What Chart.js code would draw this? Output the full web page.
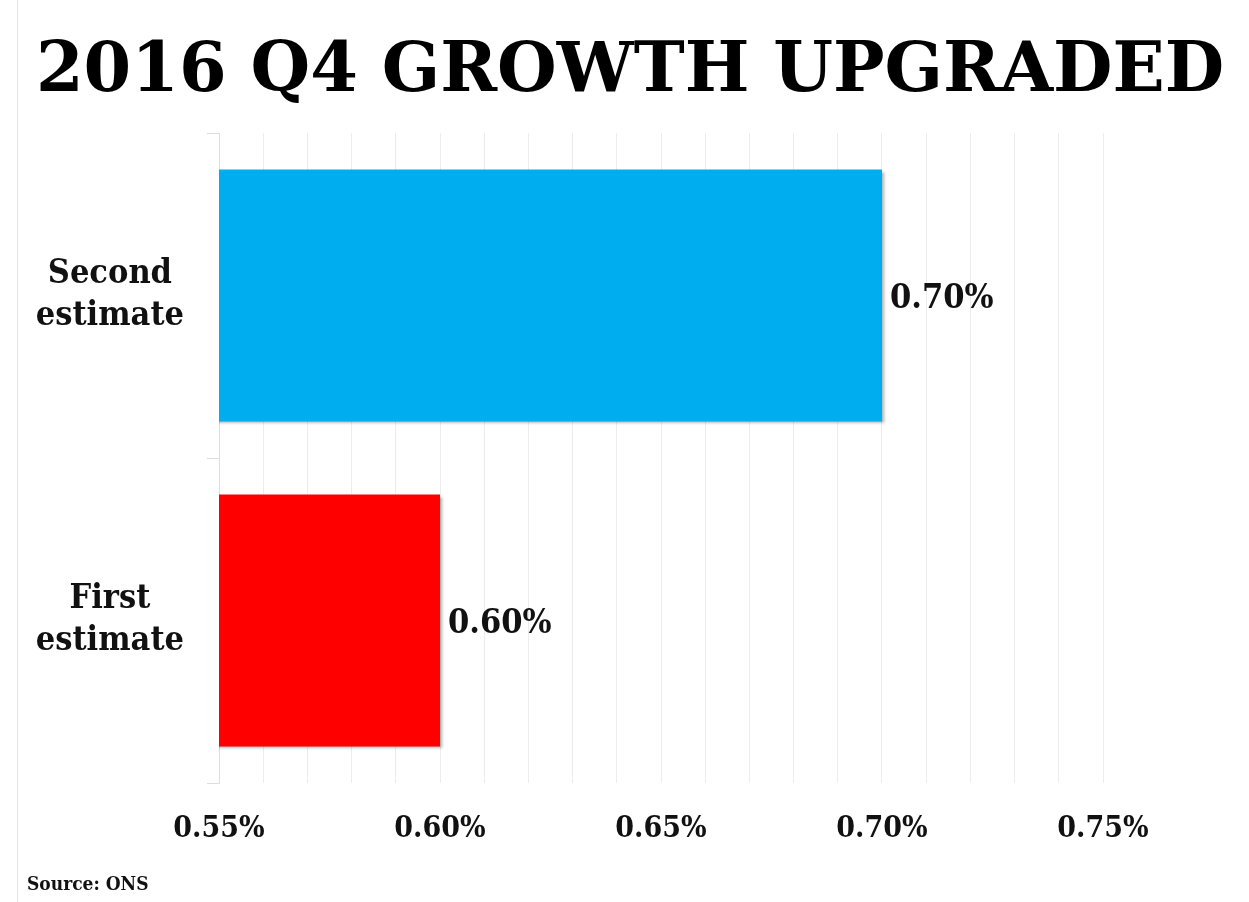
<!DOCTYPE html>
<html>

<head>
    <title>2016 Q4 Growth Upgraded</title>
    <script src="https://cdn.jsdelivr.net/npm/chart.js@4/dist/chart.umd.min.js"></script>
    <style>
        body { margin: 0; background: #fff; }
        #wrap { position: relative; width: 1249px; height: 902px; }
        #edge { position: absolute; left: 17px; top: 0; width: 1px; height: 902px; background: #e4e4e4; }
    </style>
</head>

<body>
    <div id="wrap">
        <div id="edge"></div>
        <canvas id="ctx" width="1249" height="902"></canvas>
    </div>

    <script>
        // chart data
        const categories = [['Second', 'estimate'], ['First', 'estimate']];
        const growth = [0.70, 0.60];
        const barColors = ['#00aeef', '#fe0000'];
        const tickLabels = ['0.55%', '0.60%', '0.65%', '0.70%', '0.75%'];

        const serif = "'DejaVu Serif Condensed', 'DejaVu Serif', serif";

        // soft drop shadow under the bars
        const barShadow = {
            id: 'barShadow',
            beforeDatasetDraw(chart) {
                const c = chart.ctx;
                c.save();
                c.shadowColor = 'rgba(0,0,0,0.35)';
                c.shadowOffsetX = 2;
                c.shadowOffsetY = 2;
                c.shadowBlur = 3;
            },
            afterDatasetDraw(chart) {
                chart.ctx.restore();
            }
        };

        // value labels at bar ends
        const valueLabels = {
            id: 'valueLabels',
            afterDatasetsDraw(chart) {
                const c = chart.ctx;
                const meta = chart.getDatasetMeta(0);
                c.save();
                c.font = 'bold 34px ' + serif;
                c.fillStyle = '#111';
                c.textBaseline = 'middle';
                c.textAlign = 'left';
                meta.data.forEach((bar, i) => {
                    c.fillText(growth[i].toFixed(2) + '%', bar.x + 8, bar.y + 4);
                });
                c.restore();
            }
        };

        const ctx = document.getElementById('ctx');

        new Chart(ctx, {
            type: 'bar',
            data: {
                labels: categories,
                datasets: [{
                    data: growth,
                    backgroundColor: barColors,
                    borderWidth: 0,
                    barPercentage: 0.775,
                    categoryPercentage: 1
                }]
            },
            options: {
                indexAxis: 'y',
                responsive: false,
                animation: false,
                layout: { padding: { left: 27, right: 16, top: 0, bottom: 0 } },
                plugins: {
                    legend: { display: false },
                    tooltip: { enabled: false },
                    title: {
                        display: true,
                        text: '2016 Q4 GROWTH UPGRADED',
                        color: '#000',
                        font: { family: "'DejaVu Serif', serif", size: 68.5, weight: 'bold', lineHeight: 1 },
                        padding: { top: 39, bottom: 25.5 }
                    },
                    subtitle: {
                        display: true,
                        position: 'bottom',
                        align: 'start',
                        text: 'Source: ONS',
                        color: '#111',
                        font: { family: serif, size: 19, weight: 'bold', lineHeight: 1 },
                        padding: { top: 0, bottom: 7 }
                    }
                },
                scales: {
                    x: {
                        min: 0.55,
                        max: 0.75,
                        border: { display: false },
                        grid: { color: '#ececec', drawTicks: false },
                        ticks: {
                            stepSize: 0.01,
                            autoSkip: false,
                            maxRotation: 0,
                            padding: 28.5,
                            color: '#111',
                            font: { family: serif, size: 30, weight: 'bold' },
                            callback(value) {
                                const k = Math.round((value - 0.55) * 100);
                                return k % 5 === 0 ? tickLabels[k / 5] : '';
                            }
                        }
                    },
                    y: {
                        border: { color: '#dddddd' },
                        grid: { drawOnChartArea: false, tickLength: 12, color: '#dddddd' },
                        ticks: {
                            crossAlign: 'center',
                            padding: 23,
                            color: '#111',
                            font: { family: serif, size: 34, weight: 'bold', lineHeight: 1.24 }
                        },
                        afterFit(scale) {
                            scale.width = 192;
                        }
                    },
                    // empty right-hand gutter
                    y2: {
                        type: 'category',
                        position: 'right',
                        grid: { display: false },
                        border: { display: false },
                        ticks: { display: false },
                        afterFit(scale) {
                            scale.width = 130;
                        }
                    }
                }
            },
            plugins: [barShadow, valueLabels]
        });
    </script>
</body>

</html>
